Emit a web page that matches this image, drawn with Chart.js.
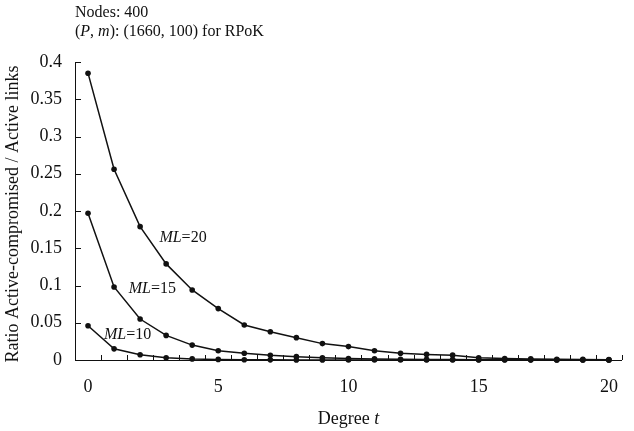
<!DOCTYPE html>
<html>
<head>
<meta charset="utf-8">
<script src="https://cdn.jsdelivr.net/npm/chart.js@4"></script>
<style>
  body { margin: 0; background: #fff; }
  canvas { display: block; }
</style>
</head>
<body>
<canvas id="chart" width="634" height="431"></canvas>
<script>
const degrees = [0, 1, 2, 3, 4, 5, 6, 7, 8, 9, 10, 11, 12, 13, 14, 15, 16, 17, 18, 19, 20];
const ml20 = [0.385, 0.256, 0.179, 0.129, 0.094, 0.069, 0.047, 0.038, 0.030, 0.022, 0.018, 0.0125, 0.009, 0.0075, 0.0065, 0.003, 0.002, 0.0015, 0.001, 0.0008, 0.0005];
const ml15 = [0.197, 0.098, 0.055, 0.033, 0.020, 0.0125, 0.009, 0.0063, 0.0045, 0.003, 0.002, 0.0015, 0.001, 0.0008, 0.0006, 0.0004, 0.0003, 0.0002, 0.0001, 0.0001, 0.0001];
const ml10 = [0.046, 0.015, 0.007, 0.003, 0.0015, 0.0008, 0.0004, 0.0002, 0.0001, 0.0001, 0, 0, 0, 0, 0, 0, 0, 0, 0, 0, 0];
const seriesNames = ['ML=20', 'ML=15', 'ML=10'];
const xTickLabels = [0, 5, 10, 15, 20];

const FONT = "'Liberation Serif', 'Times New Roman', serif";
const INK = '#111';

function drawRuns(ctx, runs, x, y, size) {
  for (const [txt, italic] of runs) {
    ctx.font = (italic ? 'italic ' : '') + size + 'px ' + FONT;
    ctx.fillText(txt, x, y);
    x += ctx.measureText(txt).width;
  }
}
function runsWidth(ctx, runs, size) {
  let w = 0;
  for (const [txt, italic] of runs) {
    ctx.font = (italic ? 'italic ' : '') + size + 'px ' + FONT;
    w += ctx.measureText(txt).width;
  }
  return w;
}

// inward tick marks, header text, axis titles and curve labels
const decor = {
  id: 'decor',
  afterDraw(chart) {
    const ctx = chart.ctx;
    const xs = chart.scales.x, ys = chart.scales.y;
    const area = chart.chartArea;
    ctx.save();
    ctx.strokeStyle = INK;
    ctx.lineWidth = 1;
    ctx.beginPath();
    for (let v = -0.5; v <= 20.5; v += 1) {
      const px = Math.round(xs.getPixelForValue(v)) + 0.5;
      ctx.moveTo(px, area.bottom);
      ctx.lineTo(px, area.bottom - 5);
    }
    for (const t of ys.ticks) {
      const py = Math.round(ys.getPixelForValue(t.value)) + 0.5;
      ctx.moveTo(area.left, py);
      ctx.lineTo(area.left + 6, py);
    }
    ctx.stroke();

    ctx.fillStyle = INK;
    ctx.textBaseline = 'middle';
    ctx.textAlign = 'left';
    drawRuns(ctx, [['Nodes: 400', false]], area.left, 13, 16);
    drawRuns(ctx, [['(', false], ['P', true], [', ', false], ['m', true], ['): (1660, 100) for RPoK', false]], area.left, 32, 16);

    const xt = [['Degree ', false], ['t', true]];
    drawRuns(ctx, xt, (area.left + area.right) / 2 - runsWidth(ctx, xt, 18) / 2, 419, 18);

    ctx.save();
    ctx.translate(13, (area.top + area.bottom) / 2 + 3);
    ctx.rotate(-Math.PI / 2);
    ctx.textAlign = 'center';
    ctx.font = '18px ' + FONT;
    ctx.fillText('Ratio Active-compromised / Active links', 0, 0);
    ctx.restore();

    const anchors = [[2.74, 0.164], [1.56, 0.095], [0.61, 0.034]];
    seriesNames.forEach((name, i) => {
      const [a, b] = name.split('=');
      drawRuns(ctx, [[a, true], ['=' + b, false]],
        xs.getPixelForValue(anchors[i][0]), ys.getPixelForValue(anchors[i][1]), 16);
    });
    ctx.restore();
  }
};

const makeSet = vals => ({
  data: degrees.map((d, i) => ({ x: d, y: vals[i] })),
  borderColor: INK,
  borderWidth: 1.5,
  backgroundColor: INK,
  pointRadius: 2.8,
  pointBorderWidth: 0,
  pointBackgroundColor: INK,
  tension: 0,
  clip: 6
});

new Chart(document.getElementById('chart'), {
  type: 'line',
  data: { datasets: [makeSet(ml20), makeSet(ml15), makeSet(ml10)] },
  options: {
    responsive: false,
    animation: false,
    layout: { padding: { top: 62, right: 5, left: 0, bottom: 0 } },
    plugins: { legend: { display: false }, tooltip: { enabled: false } },
    scales: {
      x: {
        type: 'linear',
        min: -0.5,
        max: 20.5,
        afterBuildTicks: s => { s.ticks = xTickLabels.map(v => ({ value: v })); },
        afterFit: s => { s.height = 71; },
        grid: { display: false, drawTicks: false },
        border: { display: true, color: INK, width: 1 },
        ticks: { color: INK, font: { family: FONT, size: 18 }, padding: 16, maxRotation: 0, autoSkip: false }
      },
      y: {
        min: 0,
        max: 0.4,
        afterFit: s => { s.width = 75; },
        grid: { display: false, drawTicks: false },
        border: { display: true, color: INK, width: 1 },
        ticks: {
          stepSize: 0.05,
          color: INK,
          font: { family: FONT, size: 18 },
          padding: 13,
          callback: v => String(Number(v.toFixed(2)))
        }
      }
    }
  },
  plugins: [decor]
});
</script>
</body>
</html>
